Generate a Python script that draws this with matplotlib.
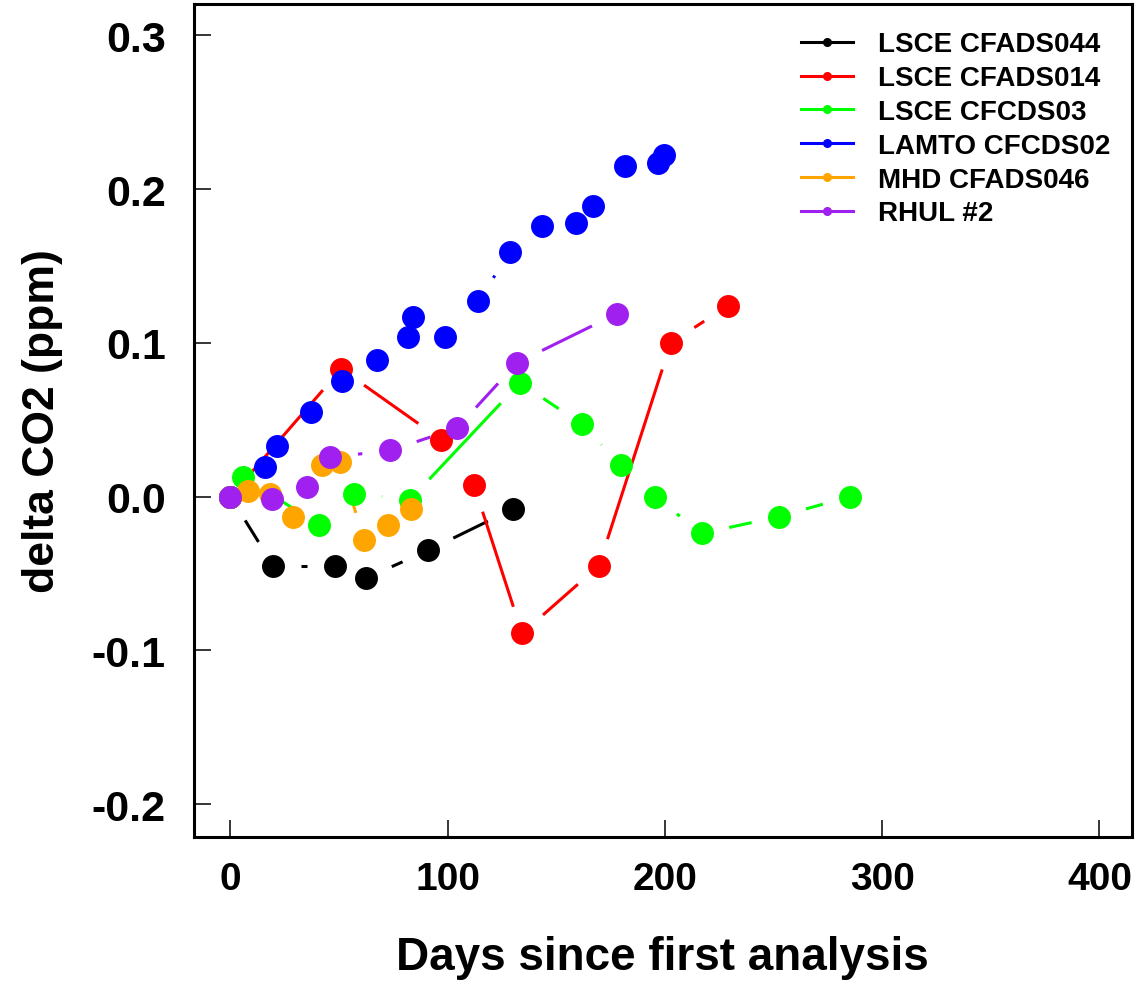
import numpy as np
import matplotlib
matplotlib.use("Agg")
import matplotlib.pyplot as plt
from matplotlib.lines import Line2D

plt.rcParams['font.family'] = ['Liberation Sans', 'DejaVu Sans']
plt.rcParams['font.weight'] = 'bold'

# days since first analysis / delta CO2 (ppm) for each cylinder
names = ["LSCE CFADS044", "LSCE CFADS014", "LSCE CFCDS03",
         "LAMTO CFCDS02", "MHD CFADS046", "RHUL #2"]
colors = ["#000000", "#ff0000", "#00ff00", "#0000ff", "#ffa500", "#a020f0"]

days_044 = [0, 19.7, 48.0, 62.5, 91.0, 130.1]
co2_044 = [0, -0.045, -0.045, -0.053, -0.035, -0.008]

days_014 = [0, 51.0, 97.0, 112.1, 134.2, 169.6, 202.7, 228.9]
co2_014 = [0, 0.083, 0.037, 0.0075, -0.089, -0.045, 0.100, 0.124]

days_03 = [0, 5.9, 40.8, 56.9, 82.7, 133.3, 161.8, 179.8, 195.4, 217.0, 252.5, 285.1]
co2_03 = [0, 0.013, -0.0185, 0.002, -0.002, 0.074, 0.047, 0.0205, 0.0, -0.024, -0.013, 0.0]

days_02 = [0, 16.0, 21.5, 37.2, 51.4, 67.5, 81.8, 84.1, 98.8, 114.0, 128.7,
           143.4, 159.1, 166.9, 181.6, 196.8, 199.5]
co2_02 = [0, 0.019, 0.033, 0.055, 0.075, 0.089, 0.104, 0.117, 0.104, 0.127, 0.159,
          0.176, 0.178, 0.189, 0.215, 0.217, 0.222]

days_046 = [0, 8.2, 18.3, 28.9, 42.2, 50.5, 61.5, 72.5, 83.1]
co2_046 = [0, 0.0035, 0.002, -0.013, 0.0205, 0.0225, -0.028, -0.0185, -0.008]

days_rhul = [0, 19.2, 35.4, 45.9, 73.5, 104.3, 131.9, 178.0]
co2_rhul = [0, -0.0015, 0.006, 0.0255, 0.030, 0.0445, 0.087, 0.119]

series = [(days_044, co2_044), (days_014, co2_014), (days_03, co2_03),
          (days_02, co2_02), (days_046, co2_046), (days_rhul, co2_rhul)]

xticks = [0, 100, 200, 300, 400]
yticks = [-0.2, -0.1, 0.0, 0.1, 0.2, 0.3]

fig = plt.figure(figsize=(11.37, 9.95), dpi=100)
ax = fig.add_axes([0.1702, 0.1578, 0.8254, 0.8372])
ax.set_xlim(-17, 415)
ax.set_ylim(-0.2214, 0.3204)

GAP = 28  # pixels of blank line left around each symbol


def gapped_line(ax, x, y, color):
    # connect points with straight segments that stop short of each symbol
    trans = ax.transData
    inv = trans.inverted()
    pix = trans.transform(np.column_stack([x, y]))
    for p0, p1 in zip(pix[:-1], pix[1:]):
        d = p1 - p0
        L = np.hypot(*d)
        if L <= 2 * GAP:
            continue
        u = d / L
        a = inv.transform(p0 + u * GAP)
        b = inv.transform(p1 - u * GAP)
        ax.plot([a[0], b[0]], [a[1], b[1]], color=color, lw=2.2,
                solid_capstyle='butt', zorder=2)


for (x, y), c in zip(series, colors):
    gapped_line(ax, x, y, c)
for (x, y), c in zip(series, colors):
    ax.plot(x, y, ls='none', marker='o', ms=15.5, color=c, mec=c, zorder=3)

ax.set_xticks(xticks)
ax.set_xticklabels([str(t) for t in xticks])
ax.set_yticks(yticks)
ax.set_yticklabels(["%.1f" % t for t in yticks])
ax.tick_params(axis='both', direction='in', length=12.5, width=1.1,
               top=False, right=False)
ax.tick_params(axis='x', pad=17, labelsize=28)
ax.tick_params(axis='y', pad=20, labelsize=31)
for s in ax.spines.values():
    s.set_linewidth(2.2)

ax.set_xlabel("Days since first analysis", fontsize=33, fontweight='bold', va='center')
ax.xaxis.set_label_coords(0.5, -0.144)
ax.set_ylabel("delta CO2 (ppm)", fontsize=32, fontweight='bold', va='center')
ax.yaxis.set_label_coords(-0.161, 0.5)

handles = [Line2D([], [], color=c, lw=2.2, marker='o', ms=5.5) for c in colors]
ax.legend(handles, names, loc='upper left', bbox_to_anchor=(0.647, 0.967),
          frameon=False, fontsize=20, borderpad=0, borderaxespad=0,
          handlelength=1.9, handletextpad=0.9, labelspacing=0.28)

fig.savefig("out.png", dpi=100)
